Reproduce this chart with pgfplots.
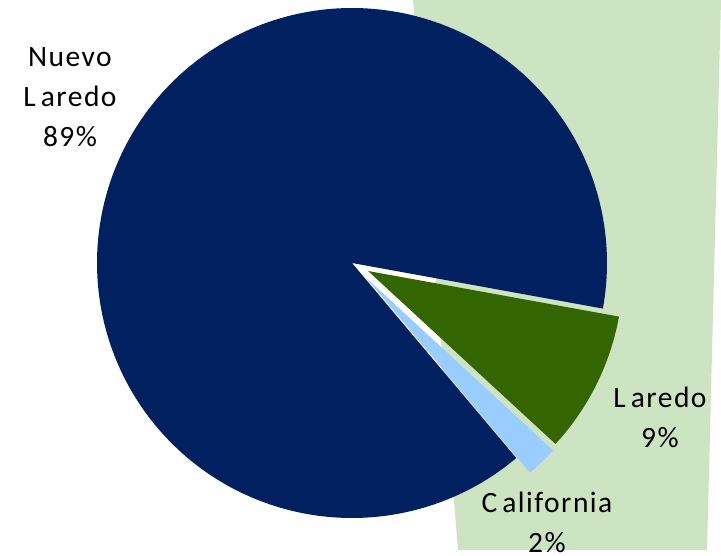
\documentclass[border=0pt]{standalone}
\usepackage{pgfplots}
\pgfplotsset{compat=1.18}
\usepackage{fontspec}
\setmainfont{Carlito}[LetterSpace=5]
\definecolor{navy}{HTML}{002060}
\definecolor{dgreen}{HTML}{336600}
\definecolor{lblue}{HTML}{99CCFF}
\definecolor{bggreen}{HTML}{CDE4C2}
\begin{document}
\begin{tikzpicture}
\begin{axis}[
  scale only axis, width=721pt, height=555pt,
  xmin=0, xmax=721, ymin=0, ymax=555,
  hide axis, clip=true,
]
% background panel
\addplot[fill=bggreen, draw=none] coordinates {(413,555) (721,555) (707,5) (458,5)} -- cycle;
% Nuevo Laredo 89%
\addplot[fill=navy, draw=none, domain={-10.3}:{-10.3+89*3.6}, samples=240, variable=\t]
  ({352+255*cos(t)}, {292+255*sin(t)}) -- (axis cs:352,292) -- cycle;
% Laredo 9% (exploded)
\addplot[fill=dgreen, draw=none, domain={-10.3-9*3.6}:{-10.3}, samples=40, variable=\t]
  ({368.1+255*cos(t)}, {284+255*sin(t)}) -- (axis cs:368.1,284) -- cycle;
% California 2% (exploded)
\addplot[fill=lblue, draw=none, domain={-10.3-11*3.6}:{-10.3-9*3.6}, samples=12, variable=\t]
  ({365.8+255*cos(t)}, {277.5+255*sin(t)}) -- (axis cs:365.8,277.5) -- cycle;
\node[align=center, font=\fontsize{29.5}{40}\selectfont] at (axis cs:70,458) {Nuevo\\L\kern5pt aredo\\89\%};
\node[align=center, font=\fontsize{29.5}{40}\selectfont] at (axis cs:660,138) {L\kern5pt aredo\\9\%};
\node[align=center, font=\fontsize{29.5}{40}\selectfont] at (axis cs:547,33) {C\kern5pt alifornia\\2\%};
\end{axis}
\pgfresetboundingbox
\path (0,0) rectangle (721pt,555pt);
\end{tikzpicture}
\end{document}
